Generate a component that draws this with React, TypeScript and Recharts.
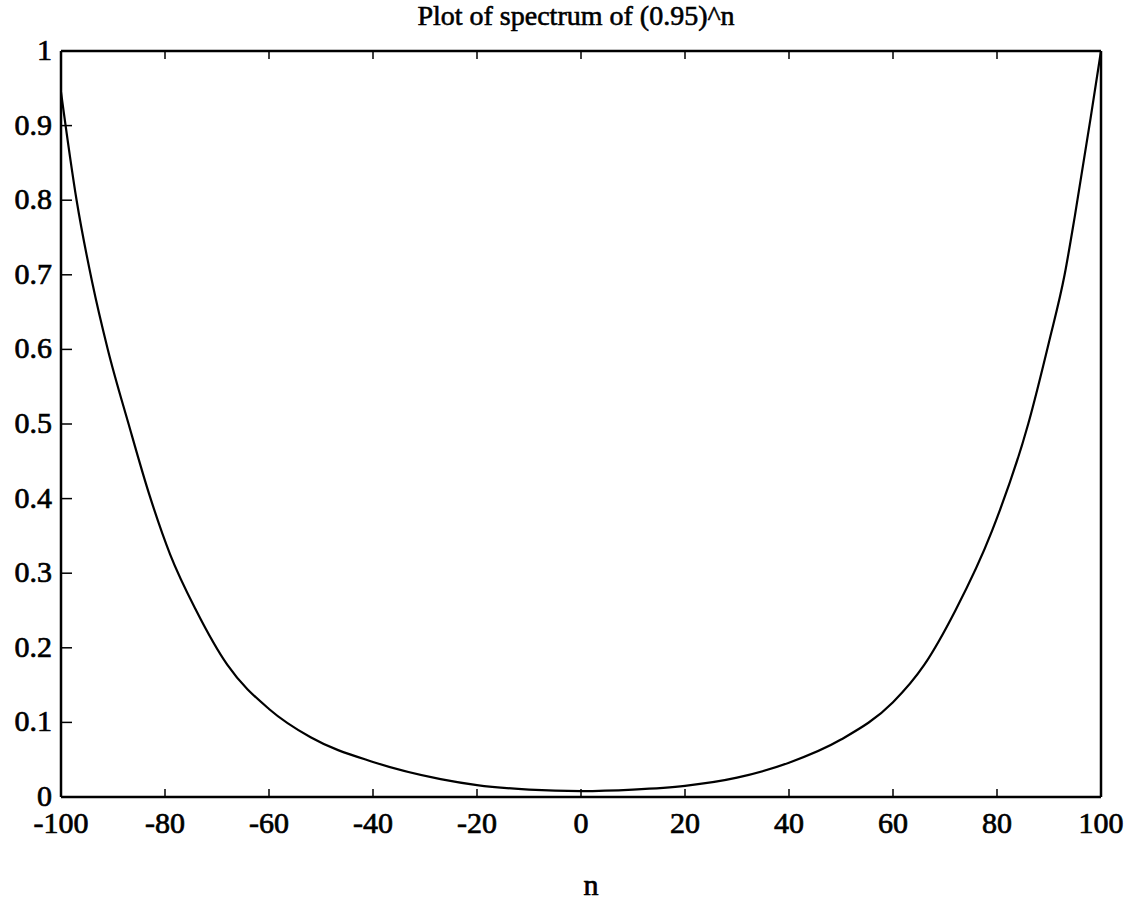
import { LineChart, Line, XAxis, YAxis } from 'recharts';

// values
const nValues = [-100, -97, -94, -91, -87, -83, -79, -74, -68, -60, -52, -40, -27, -20, -10, 0, 10, 20, 30, 40, 50, 60, 66, 72, 79, 86, 90, 93, 95, 98, 100];
const spectrum = [0.945, 0.8, 0.69, 0.6, 0.5, 0.405, 0.325, 0.25, 0.177, 0.118, 0.08, 0.047, 0.024, 0.016, 0.01, 0.008, 0.01, 0.015, 0.026, 0.046, 0.077, 0.127, 0.177, 0.25, 0.356, 0.5, 0.61, 0.7, 0.78, 0.91, 1.0];

const xTicks = [-100, -80, -60, -40, -20, 0, 20, 40, 60, 80, 100];
const yTicks = [0, 0.1, 0.2, 0.3, 0.4, 0.5, 0.6, 0.7, 0.8, 0.9, 1];

const TITLE = 'Plot of spectrum of (0.95)^n';
const X_LABEL = 'n';

const FONT = 'Liberation Serif, DejaVu Serif, serif';

const data = nValues.map((n, i) => ({ n, v: spectrum[i] }));

const textProps = { fontFamily: FONT, fontSize: 30, fill: '#000', stroke: '#000', strokeWidth: 0.7 };

function BottomTick({ x, y, payload }: any) {
  return (
    <g>
      <line x1={x} y1={y} x2={x} y2={y - 8} stroke="#000" strokeWidth={1.5} />
      <text x={x} y={y + 36} textAnchor="middle" {...textProps}>{payload.value}</text>
    </g>
  );
}

function TopTick({ x, y }: any) {
  return <line x1={x} y1={y} x2={x} y2={y + 8} stroke="#000" strokeWidth={1.5} />;
}

function LeftTick({ x, y, payload }: any) {
  return (
    <g>
      <line x1={x} y1={y} x2={x + 11} y2={y} stroke="#000" strokeWidth={1.5} />
      <text x={x - 9} y={y + 9} textAnchor="end" {...textProps}>{payload.value}</text>
    </g>
  );
}

function RightTick({ x, y }: any) {
  return <line x1={x} y1={y} x2={x - 11} y2={y} stroke="#000" strokeWidth={1.5} />;
}

export default function App() {
  return (
    <div style={{ position: 'absolute', left: 0, top: 0, width: 1143, height: 903, background: '#fff' }}>
      <LineChart width={1143} height={903} data={data} margin={{ top: 50, right: 41, bottom: 105, left: 60 }}>
        <text x={576} y={25} textAnchor="middle" {...textProps} fontSize={28} strokeWidth={0.6}>{TITLE}</text>
        <XAxis
          dataKey="n"
          type="number"
          domain={[-100, 100]}
          ticks={xTicks}
          height={1}
          tickSize={0}
          tickMargin={0}
          tickLine={false}
          tick={<BottomTick />}
          axisLine={{ stroke: '#000', strokeWidth: 2.5 }}
          interval={0}
        />
        <XAxis
          xAxisId="top"
          orientation="top"
          dataKey="n"
          type="number"
          domain={[-100, 100]}
          ticks={xTicks.slice(1, -1)}
          height={1}
          tickSize={0}
          tickMargin={0}
          tickLine={false}
          tick={<TopTick />}
          axisLine={{ stroke: '#000', strokeWidth: 2.5 }}
          interval={0}
        />
        <YAxis
          type="number"
          domain={[0, 1]}
          ticks={yTicks}
          width={1}
          tickSize={0}
          tickMargin={0}
          tickLine={false}
          tick={<LeftTick />}
          axisLine={{ stroke: '#000', strokeWidth: 2.5 }}
          interval={0}
        />
        <YAxis
          yAxisId="right"
          orientation="right"
          type="number"
          domain={[0, 1]}
          ticks={yTicks.slice(1, -1)}
          width={1}
          tickSize={0}
          tickMargin={0}
          tickLine={false}
          tick={<RightTick />}
          axisLine={{ stroke: '#000', strokeWidth: 2.5 }}
          interval={0}
        />
        <Line
          dataKey="v"
          type="monotone"
          stroke="#000"
          strokeWidth={2.2}
          dot={false}
          isAnimationActive={false}
        />
        <text x={591} y={895} textAnchor="middle" {...textProps}>{X_LABEL}</text>
      </LineChart>
    </div>
  );
}
